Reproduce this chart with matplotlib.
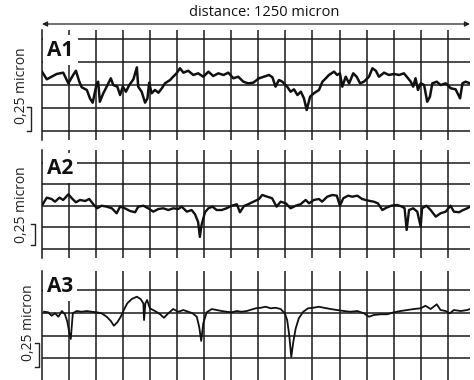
import matplotlib
matplotlib.use("Agg")
import matplotlib.pyplot as plt
import matplotlib.transforms as mtransforms

# profile readings: distance (micron) and height (micron)
a1_dist = [0, 14, 28, 43, 62, 77, 91, 99, 109, 116,
           131, 140, 148, 160, 164, 169, 179, 189, 201, 208,
           220, 228, 236, 245, 255, 267, 277, 281, 291, 301,
           308, 313, 320, 330, 340, 350, 359, 374, 383, 393,
           403, 413, 427, 442, 456, 471, 486, 500, 515, 530,
           544, 559, 573, 588, 602, 617, 634, 648, 663, 673,
           682, 692, 702, 716, 726, 736, 746, 756, 765, 773,
           783, 794, 809, 819, 829, 838, 853, 862, 870, 877,
           887, 897, 909, 919, 929, 940, 955, 965, 975, 984,
           999, 1013, 1028, 1043, 1057, 1069, 1077, 1084, 1091, 1098,
           1106, 1116, 1125, 1133, 1140, 1153, 1164, 1179, 1194, 1208,
           1221, 1228, 1237, 1250]
a1_height = [0.145, 0.062, 0.09, 0.12, 0.134, 0.018, 0.109, 0.155, 0.036, -0.025,
             -0.054, -0.145, -0.192, 0.018, 0.036, -0.182, -0.09, -0.018, 0.073, 0.0,
             -0.018, -0.109, -0.018, -0.073, 0.0, 0.062, 0.192, -0.018, -0.073, -0.192,
             -0.145, 0.025, -0.09, -0.054, -0.084, -0.036, 0.018, 0.054, 0.09, 0.127,
             0.182, 0.134, 0.155, 0.109, 0.127, 0.09, 0.145, 0.098, 0.127, 0.109,
             0.134, 0.073, 0.09, 0.036, 0.018, 0.025, 0.073, 0.09, 0.109, 0.084,
             -0.018, 0.054, 0.036, -0.018, -0.073, -0.047, -0.109, -0.073, -0.145, -0.272,
             -0.127, -0.09, -0.054, 0.036, 0.073, 0.109, 0.145, 0.109, 0.127, -0.018,
             0.09, 0.018, 0.127, 0.09, 0.018, 0.036, 0.09, 0.182, 0.155, 0.09,
             0.134, 0.109, 0.12, 0.109, 0.127, 0.073, 0.036, -0.018, 0.073, -0.054,
             0.018, 0.0, -0.182, -0.127, 0.018, 0.036, 0.0, 0.018, -0.036, -0.047,
             -0.145, 0.018, 0.036, 0.018]

a2_dist = [2, 14, 28, 38, 51, 62, 77, 87, 99, 111,
           126, 138, 150, 161, 174, 189, 204, 218, 228, 242,
           257, 272, 281, 296, 310, 325, 340, 354, 369, 383,
           398, 408, 423, 437, 447, 456, 461, 466, 476, 486,
           498, 510, 525, 539, 554, 569, 578, 590, 602, 622,
           634, 643, 658, 672, 685, 697, 712, 726, 741, 755,
           770, 780, 794, 809, 818, 833, 848, 861, 870, 880,
           894, 906, 921, 935, 945, 958, 969, 981, 994, 1006,
           1020, 1037, 1052, 1059, 1065, 1072, 1084, 1096, 1106, 1110,
           1123, 1135, 1150, 1164, 1179, 1193, 1203, 1218, 1230, 1242,
           1250]
a2_height = [0.02, 0.097, 0.081, 0.05, 0.097, 0.07, 0.136, 0.09, 0.043, 0.07,
             0.058, 0.081, 0.02, -0.027, 0.003, -0.008, -0.027, -0.085, -0.008, -0.027,
             -0.058, -0.073, -0.008, 0.003, -0.027, -0.066, -0.035, -0.027, -0.047, -0.027,
             -0.035, -0.008, -0.066, -0.047, -0.097, -0.186, -0.36, -0.221, -0.073, -0.027,
             -0.008, -0.047, -0.047, -0.027, 0.003, 0.02, -0.073, 0.0, 0.02, 0.058,
             0.081, 0.128, 0.108, 0.09, -0.008, 0.05, 0.031, -0.027, 0.003, 0.02,
             0.07, 0.031, 0.07, 0.081, 0.05, 0.108, 0.128, 0.12, 0.003, 0.09,
             0.12, 0.108, 0.12, 0.081, 0.07, 0.058, 0.05, 0.031, -0.047, -0.02,
             0.003, 0.012, -0.008, -0.027, -0.279, -0.047, -0.027, -0.066, -0.241, -0.027,
             0.003, -0.047, -0.124, -0.085, -0.066, 0.003, -0.066, -0.073, -0.047, -0.027,
             -0.008]

a3_dist = [6, 18, 28, 38, 48, 58, 67, 74, 80, 84,
           90, 101, 116, 131, 145, 160, 174, 189, 201, 210,
           220, 230, 239, 249, 262, 277, 288, 296, 298, 302,
           307, 315, 330, 345, 356, 369, 383, 398, 413, 427,
           440, 452, 459, 465, 471, 481, 496, 510, 525, 539,
           554, 569, 583, 598, 617, 624, 639, 653, 668, 682,
           697, 709, 716, 722, 728, 734, 741, 750, 763, 777,
           792, 809, 823, 843, 862, 882, 901, 921, 940, 955,
           969, 989, 1008, 1028, 1047, 1067, 1086, 1106, 1120, 1135,
           1153, 1164, 1179, 1191, 1203, 1223, 1242, 1250]
a3_height = [0.014, 0.008, -0.03, -0.003, -0.041, 0.022, -0.014, -0.096, -0.224, -0.286,
             -0.003, 0.022, 0.014, 0.022, 0.014, 0.008, -0.003, -0.041, -0.088, -0.14,
             -0.102, -0.041, 0.033, 0.107, 0.154, 0.18, 0.154, 0.107, -0.077, 0.107,
             0.143, 0.052, 0.022, -0.014, -0.052, -0.003, 0.044, 0.014, 0.033, 0.014,
             -0.003, -0.041, -0.151, -0.308, -0.113, 0.008, 0.044, 0.033, 0.022, 0.014,
             0.008, 0.022, 0.014, 0.022, 0.044, 0.052, 0.058, 0.069, 0.052, 0.058,
             0.044, -0.003, -0.077, -0.242, -0.485, -0.316, -0.169, -0.058, 0.014, 0.052,
             0.058, 0.069, 0.058, 0.044, 0.033, 0.022, 0.014, 0.022, -0.003, -0.041,
             -0.022, -0.014, -0.014, 0.008, 0.022, 0.033, 0.044, 0.052, 0.08, 0.044,
             0.096, 0.033, 0.022, -0.003, 0.033, 0.022, 0.033, 0.044]

panel_names = ["A1", "A2", "A3"]
total_distance = 1250
scale_bar = 0.25
vgrid = [79 * k for k in range(1, 16)]
hgrid = [-0.5, -0.25, 0.0, 0.25, 0.5]

W, H = 474, 380
fig = plt.figure(figsize=(W / 100, H / 100), dpi=100)

# (top px, bottom px, ylim, scale bar y-range, bar x px, label y px, ylabel x px, ylabel y px)
layout = [
    (30, 140, (-0.598, 0.598), (-0.5, -0.24), 31, 50, 22, 86),
    (150, 258, (-0.605, 0.651), (-0.453, -0.209), 35, 168, 22, 205),
    (271, 380, (-0.738, 0.463), (-0.595, -0.33), 39, 286, 29, 323),
]
profiles = [(a1_dist, a1_height, 1.8), (a2_dist, a2_height, 1.7), (a3_dist, a3_height, 1.3)]

for name, (top, bot, ylim, bar, barx, laby, ylx, yly), (xs, ys, lw) in zip(panel_names, layout, profiles):
    ax = fig.add_axes([42 / W, 1 - bot / H, 428 / W, (bot - top) / H])
    ax.set_xlim(0, total_distance)
    ax.set_ylim(*ylim)
    ax.set_xticks(vgrid)
    ax.set_yticks([h for h in hgrid if ylim[0] < h < ylim[1]])
    ax.grid(True, color="#1a1a1a", linewidth=1.1)
    ax.set_axisbelow(True)
    ax.tick_params(length=0, labelbottom=False, labelleft=False)
    for s in ["top", "right", "bottom"]:
        ax.spines[s].set_visible(False)
    ax.spines["left"].set_linewidth(1.1)
    ax.spines["left"].set_color("#1a1a1a")
    ax.plot(xs, ys, color="#111111", linewidth=lw, zorder=3)

    # panel name with white box hiding grid
    fig.text(47 / W, 1 - laby / H, name, fontsize=15, fontweight="bold",
             family="Open Sans", va="center", ha="left", color="#111111",
             bbox=dict(facecolor="white", edgecolor="none", boxstyle="square,pad=0.2"),
             zorder=5)

    # scale bar of 0.25 micron
    trans = mtransforms.blended_transform_factory(ax.transAxes, ax.transData)
    bx = (barx - 42) / 428
    d = 4 / 428
    ax.plot([bx - d, bx, bx, bx - d], [bar[1], bar[1], bar[0], bar[0]],
            color="#222222", linewidth=1.0, transform=trans, clip_on=False)
    fig.text(ylx / W, 1 - yly / H, "0,25 micron", rotation=90, fontsize=10,
             family="Open Sans", va="center", ha="center", color="#222222")

# distance arrow on top
fig.text(264 / W, 1 - 12 / H, "distance: 1250 micron", fontsize=10.5,
         family="Open Sans", ha="center", va="center", color="#111111")
fig.add_artist(matplotlib.patches.FancyArrowPatch(
    (42 / W, 1 - 24 / H), (470 / W, 1 - 24 / H), transform=fig.transFigure,
    arrowstyle="<|-|>,head_length=3,head_width=1.5", color="#222222",
    linewidth=0.9, shrinkA=0, shrinkB=0))

fig.savefig("out.png", dpi=100)
